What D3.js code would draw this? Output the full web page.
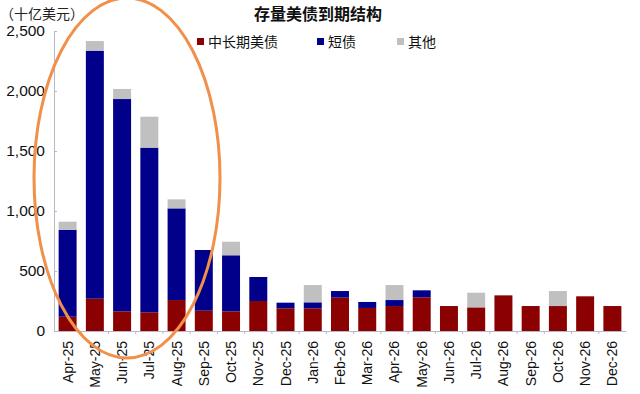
<!DOCTYPE html>
<html><head><meta charset="utf-8">
<script src="https://cdn.jsdelivr.net/npm/d3@7"></script>
<style>
html,body{margin:0;padding:0;background:#fff;}
svg{display:block;font-family:"Liberation Sans",Arial,sans-serif;}
</style></head><body>
<svg id="c" width="640" height="394"></svg>
<script>
const categories = ["Apr-25","May-25","Jun-25","Jul-25","Aug-25","Sep-25","Oct-25","Nov-25","Dec-25","Jan-26","Feb-26","Mar-26","Apr-26","May-26","Jun-26","Jul-26","Aug-26","Sep-26","Oct-26","Nov-26","Dec-26"];
const longTerm = [119,269,164,156,258,169,164,250,189,189,278,192,208,281,208,197,297,208,208,289,208];
const shortTerm = [723,2067,1769,1372,764,506,467,200,47,50,55,50,50,58,0,0,0,0,0,0,0];
const other = [69,80,84,258,75,0,113,0,0,144,0,0,125,0,0,122,0,0,125,0,0];
const yTicks = [0,500,1000,1500,2000,2500];
const seriesNames = ["中长期美债","短债","其他"];
const colors = ["#8B0000","#00008B","#C0C0C0"];

const svg = d3.select("#c");
const x = d3.scaleBand().domain(categories).range([54,626]).paddingInner(0.34).paddingOuter(0.17);
const y = d3.scaleLinear().domain([0,2500]).range([331,31]);

const data = categories.map((c,i)=>({cat:c, a:longTerm[i], b:shortTerm[i], c:other[i]}));
const stack = d3.stack().keys(["a","b","c"])(data);

svg.append("g").selectAll("g").data(stack).join("g")
  .attr("fill",(d,i)=>colors[i])
  .selectAll("rect").data(d=>d).join("rect")
  .attr("x",d=>x(d.data.cat))
  .attr("width",x.bandwidth())
  .attr("y",d=>y(d[1]))
  .attr("height",d=>y(d[0])-y(d[1]));

// y axis
const ya = svg.append("g").attr("transform","translate(54,0)")
  .call(d3.axisRight(y).tickValues(yTicks).tickSize(3).tickFormat(""));
ya.select(".domain").attr("stroke","#B8B8C8");
ya.selectAll(".tick line").attr("stroke","#B8B8C8");
svg.append("g").selectAll("text").data(yTicks).join("text")
  .attr("x",45).attr("y",d=>y(d)+5)
  .attr("text-anchor","end").attr("font-size",15.5).attr("fill","#111")
  .text(d=>d3.format(",")(d));

// x axis
const xa = svg.append("g").attr("transform","translate(0,331)")
  .call(d3.axisBottom(x).tickSize(0).tickFormat(""));
xa.select(".domain").attr("stroke","#B8B8C8");
svg.append("g").selectAll("line").data(categories.slice(1)).join("line")
  .attr("x1",d=>x(d)-x.step()*x.paddingInner()/2).attr("x2",d=>x(d)-x.step()*x.paddingInner()/2)
  .attr("y1",331).attr("y2",334).attr("stroke","#B8B8C8");
svg.append("g").selectAll("text").data(categories).join("text")
  .attr("transform",d=>`translate(${x(d)+x.bandwidth()/2+5},341) rotate(-90)`)
  .attr("text-anchor","end").attr("font-size",14).attr("fill","#111")
  .text(d=>d);

// unit label
svg.append("text").attr("x",0).attr("y",19).attr("font-size",14).attr("fill","#222")
  .attr("font-family","'Noto Sans CJK SC',sans-serif").text("（十亿美元）");

// title
svg.append("text").attr("x",318).attr("y",20).attr("text-anchor","middle")
  .attr("font-size",16).attr("font-weight","bold").attr("fill","#111")
  .attr("font-family","'Noto Sans CJK SC',sans-serif").text("存量美债到期结构");

// legend
const legX = [197,317,397];
const lg = svg.append("g").selectAll("g").data(seriesNames).join("g")
  .attr("transform",(d,i)=>`translate(${legX[i]},42)`);
lg.append("rect").attr("x",0).attr("y",-4).attr("width",7).attr("height",7).attr("fill",(d,i)=>colors[i]);
lg.append("text").attr("x",11).attr("y",5).attr("font-size",14).attr("fill","#111")
  .attr("font-family","'Noto Sans CJK SC',sans-serif").text(d=>d);

// annotation ellipse
svg.append("ellipse").attr("cx",127).attr("cy",178).attr("rx",93).attr("ry",180)
  .attr("fill","none").attr("stroke","#F0904A").attr("stroke-width",3);
</script>
</body></html>
